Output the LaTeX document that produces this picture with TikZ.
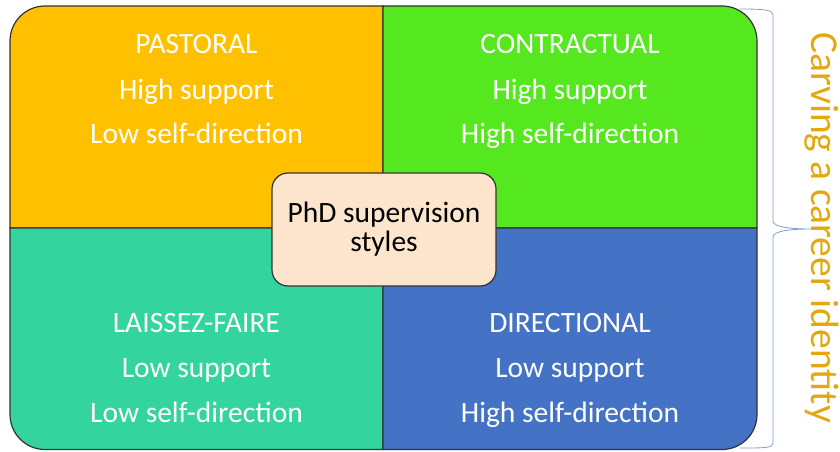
\documentclass[tikz,border=0pt]{standalone}
\usepackage{fontspec}
\setmainfont{Carlito}
\definecolor{pastoral}{RGB}{255,192,0}
\definecolor{contractual}{RGB}{86,232,30}
\definecolor{laissez}{RGB}{51,212,158}
\definecolor{directional}{RGB}{68,114,196}
\definecolor{hubfill}{RGB}{253,229,205}
\definecolor{carving}{RGB}{226,168,14}
\definecolor{bracecol}{RGB}{125,160,205}
\begin{document}
\begin{tikzpicture}[x=1pt,y=1pt,
		quad/.style={draw=black!80,line width=1.2pt},
		lbl/.style={text=white,anchor=base,font=\fontsize{29.5}{34}\selectfont},
		hub/.style={draw=black!80,line width=1.2pt,fill=hubfill,rounded corners=16pt,minimum width=224pt,minimum height=113pt,align=center,font=\fontsize{29.5}{29}\selectfont},
		]
	\def\radius{35}
	\useasboundingbox (0,0) rectangle (840,451);
	\coordinate (mid) at (383,223);
	
	\filldraw[quad,fill=pastoral] (mid) -- (10,223) -- (10,445-\radius) arc[start angle=180,end angle=90,radius=\radius] -- (383,445) -- cycle;
	\filldraw[quad,fill=contractual] (mid) -- (383,445) -- (757-\radius,445) arc[start angle=90,end angle=0,radius=\radius] -- (757,223) -- cycle;
	\filldraw[quad,fill=laissez] (mid) -- (10,223) -- (10,1.5+\radius) arc[start angle=180,end angle=270,radius=\radius] -- (383,1.5) -- cycle;
	\filldraw[quad,fill=directional] (mid) -- (757,223) -- (757,1.5+\radius) arc[start angle=0,end angle=-90,radius=\radius] -- (383,1.5) -- cycle;
	
	\coordinate (pas) at (196.5,397);
	\coordinate (con) at (570,397);
	\coordinate (lai) at (196.5,119);
	\coordinate (dir) at (570,119);
	
	\node[lbl] (pasa) at (pas) {PASTORAL};
	\node[lbl,yshift=-45] (pasb) at (pas) {High support};
	\node[lbl,yshift=-89] (pasc) at (pas) {Low self-direction};
	\node[lbl] (cona) at (con) {CONTRACTUAL};
	\node[lbl,yshift=-45] (conb) at (con) {High support};
	\node[lbl,yshift=-89] (conc) at (con) {High self-direction};
	\node[lbl] (laia) at (lai) {LAISSEZ-FAIRE};
	\node[lbl,yshift=-45] (laib) at (lai) {Low support};
	\node[lbl,yshift=-90] (laic) at (lai) {Low self-direction};
	\node[lbl] (dira) at (dir) {DIRECTIONAL};
	\node[lbl,yshift=-45] (dirb) at (dir) {Low support};
	\node[lbl,yshift=-90] (dirc) at (dir) {High self-direction};
	
	\node[hub] (hub) at (384,221.5) {PhD supervision\\styles};
	
	\draw[bracecol,line width=.8pt] (740,442) .. controls (765,442) and (773,441) .. (773,436) -- (773,230) .. controls (773,224) and (790,222) .. (812,222) .. controls (790,222) and (773,220) .. (773,214) -- (773,8) .. controls (773,3) and (765,3) .. (740,3);
	\node[text=carving,rotate=-90,anchor=base,font=\fontsize{39.5}{46}\selectfont] (carv) at (811,223.5) {Carving a career identity};
\end{tikzpicture}
\end{document}
